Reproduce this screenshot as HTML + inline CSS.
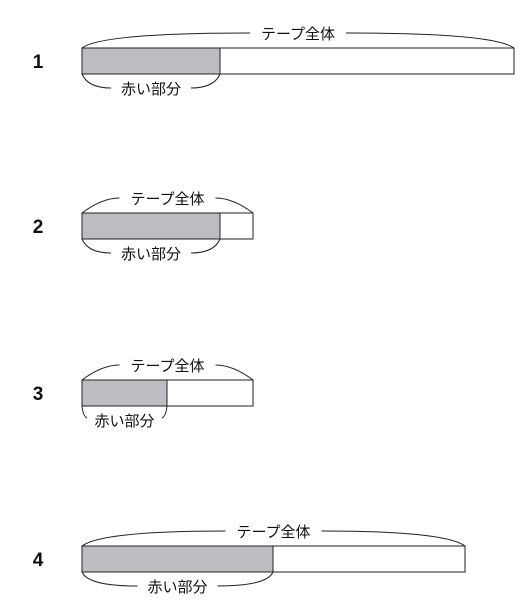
<!DOCTYPE html>
<html><head><meta charset="utf-8"><style>
body{margin:0;background:#fff;width:531px;height:613px;overflow:hidden}
svg{display:block}
</style></head><body>
<svg id="c" width="531" height="613" xmlns="http://www.w3.org/2000/svg"></svg>
<script>
const labels=["1","2","3","4"];
const totals=[432,171,171,383];
const reds=[138,138,85,191];
const rowY=[48,213,380,546];
const NS="http://www.w3.org/2000/svg";
const svg=document.getElementById('c');
const x0=82,h=26;
function el(t,a,p){const e=document.createElementNS(NS,t);for(const k in a)e.setAttribute(k,a[k]);(p||svg).appendChild(e);return e;}
const font='"Liberation Sans","Noto Sans CJK JP",sans-serif';
labels.forEach((lab,i)=>{
  const y=rowY[i],W=totals[i],R=reds[i];
  const g=el('g',{});
  
  
  const n=el('text',{x:38,y:y+h/2+7,'font-family':font,'font-weight':'bold','font-size':19,'text-anchor':'middle',fill:'#111'},g);
  n.textContent=lab;
  
  
  const whole=el('rect',{x:x0,y:y,width:W,height:h,fill:'#fff',stroke:'#222','stroke-width':1},g);
  
  
  const red=el('rect',{x:x0,y:y,width:R,height:h,fill:'#bcbdc0',stroke:'#222','stroke-width':1},g);
  
  
  const cx=x0+W/2, ty=y-15, tw=88;
  const p1=el('path',{d:`M${x0},${y} Q${x0+20},${ty} ${cx-tw/2-4},${ty} M${x0+W},${y} Q${x0+W-20},${ty} ${cx+tw/2+4},${ty}`,fill:'none',stroke:'#222','stroke-width':1},g);
  
  
  const t1=el('text',{x:cx,y:ty+6,'font-family':font,'font-size':15,'text-anchor':'middle',fill:'#111'},g);
  t1.textContent='テープ全体';
  
  
  const rx=x0+R/2, by=y+h+14, bw=72;
  let d;
  if(R<bw+30){
    d=`M${x0},${y+h} Q${x0+1},${by-4} ${x0+5},${by-2} M${x0+R},${y+h} Q${x0+R-1},${by-4} ${x0+R-5},${by-2}`;
  } else {
    d=`M${x0},${y+h} Q${x0+6},${by} ${rx-bw/2-4},${by} M${x0+R},${y+h} Q${x0+R-6},${by} ${rx+bw/2+4},${by}`;
  }
  const p2=el('path',{d:d,fill:'none',stroke:'#222','stroke-width':1},g);
  
  
  const t2=el('text',{x:rx,y:by+6,'font-family':font,'font-size':15,'text-anchor':'middle',fill:'#111'},g);
  t2.textContent='赤い部分';
  
  
});
</script>
</body></html>
